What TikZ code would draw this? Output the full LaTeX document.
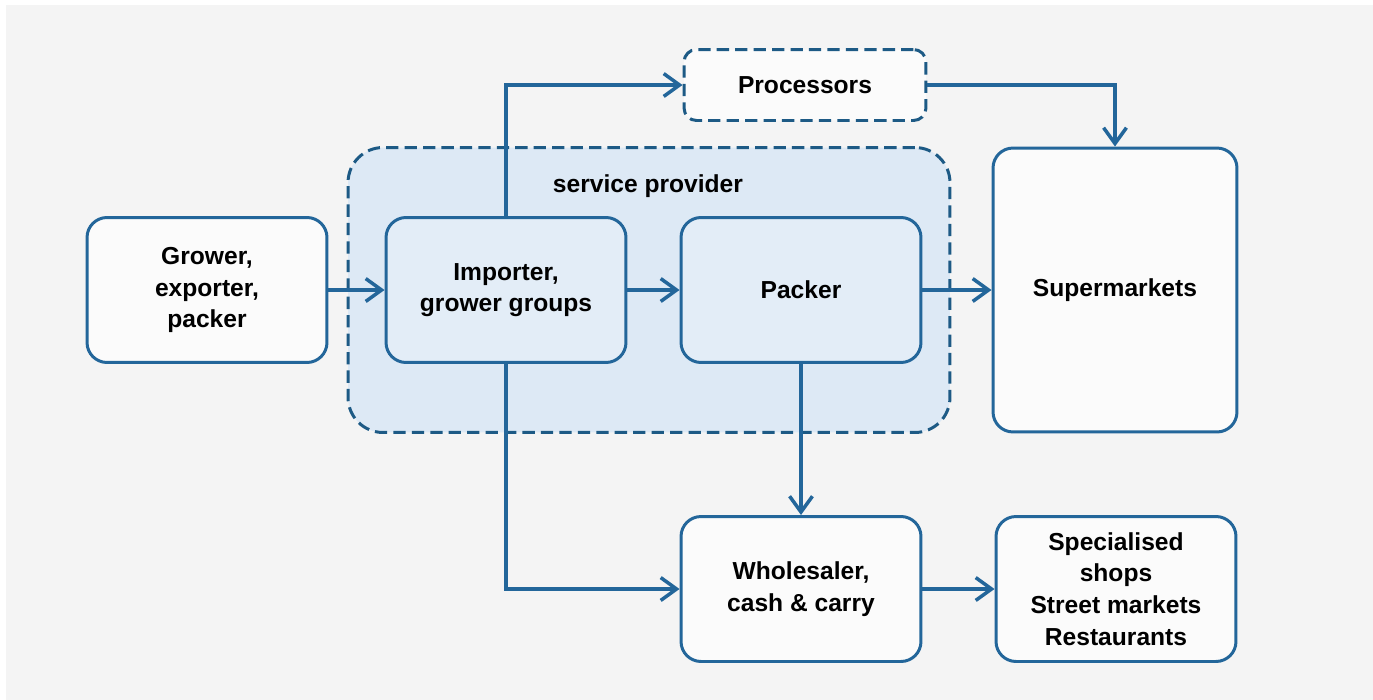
\documentclass[tikz,border=0pt]{standalone}
\usepackage{fontspec}
\setmainfont{Liberation Sans}
\usetikzlibrary{arrows.meta,positioning}
\definecolor{lineblue}{HTML}{23669A}
\definecolor{dashblue}{HTML}{1D5A85}
\definecolor{spfill}{HTML}{DDE9F5}
\definecolor{innerfill}{HTML}{E3EDF7}
\definecolor{bgray}{HTML}{F4F4F4}
\begin{document}
\begin{tikzpicture}[x=0.02cm,y=-0.02cm]

\tikzset{
  box/.style={draw=lineblue, line width=1.7pt, rounded corners=0.4cm,
    minimum width=4.8cm, minimum height=2.9cm, align=center,
    font=\fontsize{14}{18}\selectfont\bfseries, fill=#1},
  box/.default={white!60!bgray},
  dashbox/.style={draw=dashblue, line width=1.7pt, dash pattern=on 7pt off 3.5pt},
  flow/.style={lineblue, line width=2pt,
    -{Straight Barb[length=9pt,width=13pt]}}
}

\useasboundingbox (0,0) rectangle (1373,700);
\fill[white] (0,0) rectangle (1373,700);
\fill[bgray] (6,5) rectangle (1373,700);

\node[dashbox, fill=spfill, rounded corners=0.7cm, minimum width=12.04cm,
  minimum height=5.7cm] (sp) at (649,290) {};
\node[font=\fontsize{14}{18}\selectfont\bfseries] (splabel) at (648,186) {service provider};

\node[box] (grower) at (207,290) {Grower,\\exporter,\\packer};
\node[box=innerfill] (importer) at (506,290) {Importer,\\grower groups};
\node[box=innerfill] (packer) at (801,290) {Packer};
\node[box, dashbox, rounded corners=0.25cm, minimum width=4.84cm,
  minimum height=1.42cm] (proc) at (805,85) {Processors};
\node[box, minimum width=4.88cm, minimum height=5.68cm] (super) at (1115,290) {Supermarkets};
\node[box] (whole) at (801,589) {Wholesaler,\\cash \& carry};
\node[box] (spec) at (1116,589) {Specialised\\shops\\Street markets\\Restaurants};

\draw[flow] (grower) -- (importer);
\draw[flow] (importer) -- (packer);
\draw[flow] (packer) -- (super);
\draw[flow] (importer.north) |- (proc.west);
\draw[flow] (proc.east) -| (super.north);
\draw[flow] (packer.south) -- (whole.north);
\draw[flow] (importer.south) |- (whole.west);
\draw[flow] (whole) -- (spec);

\end{tikzpicture}
\end{document}
